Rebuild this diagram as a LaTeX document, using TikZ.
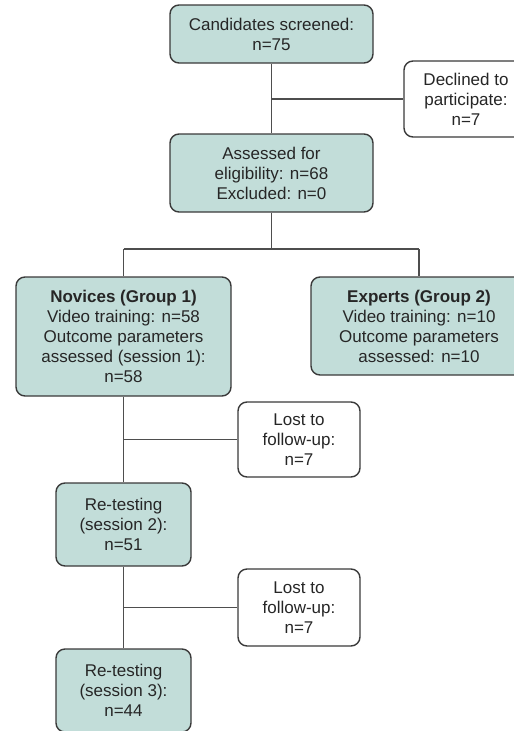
\documentclass[tikz,border=0pt]{standalone}
\usepackage{fontspec}
\setmainfont{Liberation Sans}
\definecolor{boxfill}{HTML}{C2DDD9}
\definecolor{boxline}{HTML}{3A3A3A}
\begin{document}
\begin{tikzpicture}[x=1pt,y=-1pt,
  base/.style={draw=boxline,line width=1.4pt,rounded corners=9pt,align=center,
    inner sep=0pt,font=\fontsize{17}{20}\selectfont,text=black!85},
  mainbox/.style={base,fill=boxfill},
  sidebox/.style={base,fill=white},
  conn/.style={draw=boxline!90,line width=1.2pt}]
\useasboundingbox (0,0) rectangle (514,731);
\clip (0,0) rectangle (514,731);
\node[mainbox,minimum width=203pt,minimum height=58pt] (top) at (271.5,34) {Candidates screened:\\n=75};
\node[sidebox,minimum width=124pt,minimum height=76pt] (decl) at (466,99) {Declined to\\participate:\\n=7};
\node[mainbox,minimum width=203pt,minimum height=78pt] (assess) at (271.5,173) {Assessed for\\eligibility: n=68\\Excluded: n=0};
\node[mainbox,minimum width=215pt,minimum height=119pt] (nov) at (123.5,336.5) {\textbf{Novices (Group 1)}\\Video training: n=58\\Outcome parameters\\assessed (session 1):\\n=58};
\node[mainbox,minimum width=216pt,minimum height=98pt] (exp) at (419,326) {\textbf{Experts (Group 2)}\\Video training: n=10\\Outcome parameters\\assessed: n=10};
\node[sidebox,minimum width=122pt,minimum height=75pt] (lost1) at (299,439.5) {Lost to\\follow-up:\\n=7};
\node[mainbox,minimum width=135pt,minimum height=83pt] (re2) at (123.5,524.5) {Re-testing\\(session 2):\\n=51};
\node[sidebox,minimum width=122pt,minimum height=77pt] (lost2) at (299,607.5) {Lost to\\follow-up:\\n=7};
\node[mainbox,minimum width=135pt,minimum height=83pt] (re3) at (123.5,690.5) {Re-testing\\(session 3):\\n=44};
\coordinate (j1) at (top.south |- decl.west);
\coordinate (split) at (271.5,249);
\coordinate (splitL) at (nov.north |- split);
\coordinate (splitR) at (exp.north |- split);
\coordinate (j2) at (nov.south |- lost1.west);
\coordinate (j3) at (re2.south |- lost2.west);
\begin{scope}[on background layer/.try]
\end{scope}
\draw[conn] (top.south) -- (assess.north);
\draw[conn] (j1) -- (decl.west);
\draw[conn] (assess.south) -- (split);
\draw[conn] (splitL) -- (splitR);
\draw[conn] (splitL) -- (nov.north);
\draw[conn] (splitR) -- (exp.north);
\draw[conn] (nov.south) -- (re2.north);
\draw[conn] (j2) -- (lost1.west);
\draw[conn] (re2.south) -- (re3.north);
\draw[conn] (j3) -- (lost2.west);
\end{tikzpicture}
\end{document}
